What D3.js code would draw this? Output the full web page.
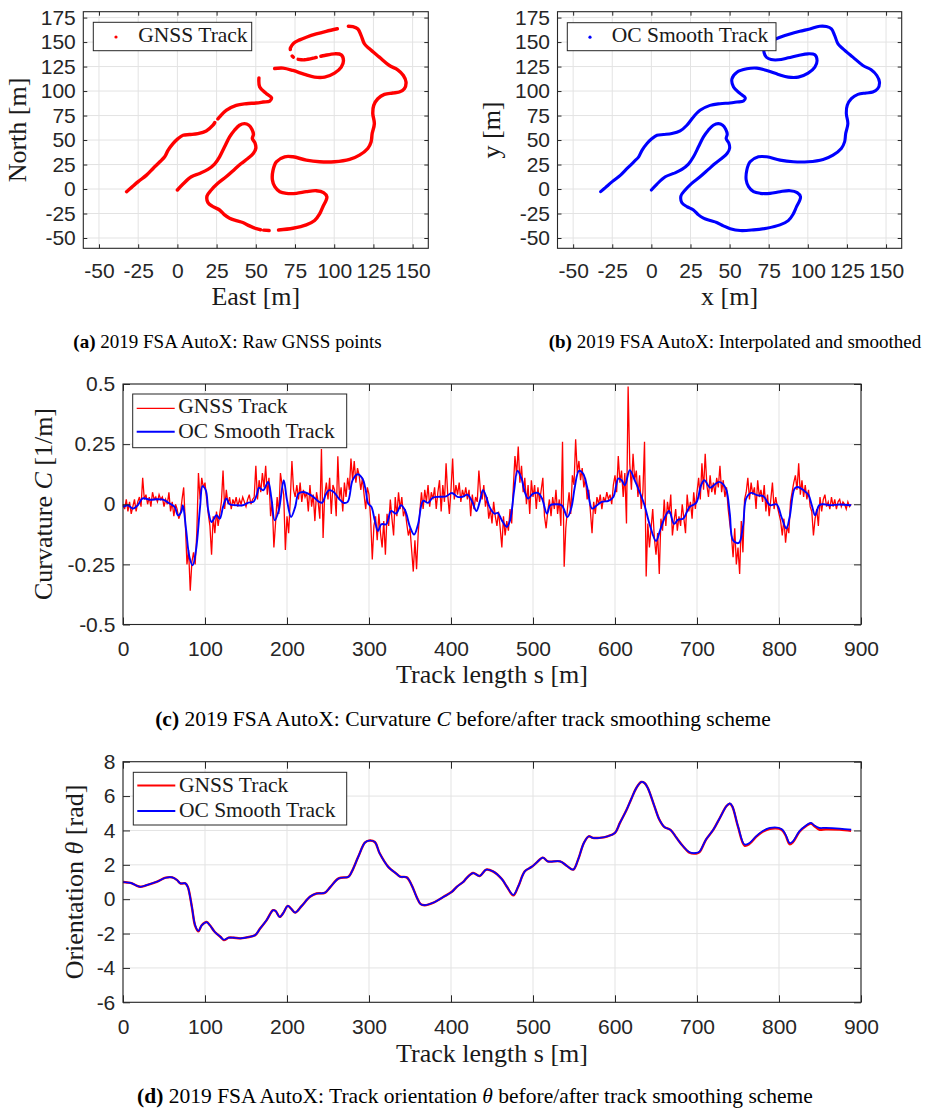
<!DOCTYPE html>
<html><head><meta charset="utf-8">
<script src="https://cdn.jsdelivr.net/npm/d3@7"></script>
<style>
body{margin:0;background:#fff;}
svg{display:block;}
</style></head><body>
<svg id="chart" width="926" height="1111"></svg>
<script>
// ---------------- DATA ----------------
// Track coordinates [m] (ordered from s = 0 at (0,0))
const smoothTrackX = [0.0,3.6,8.9,14.2,19.5,23.7,26.9,30.1,33.3,36.4,39.6,42.8,45.6,47.5,48.5,47.8,49.5,50.0,48.5,44.9,40.7,36.4,31.1,25.8,21.6,18.9,19.5,22.7,26.9,30.1,33.3,37.5,41.7,46.0,50.4,56.8,65.3,73.7,82.2,87.5,90.7,92.8,94.9,95.3,93.2,88.6,82.2,75.9,69.5,65.3,62.1,60.6,61.0,63.1,68.4,73.7,82.2,90.7,100.2,109.8,116.1,121.4,123.5,124.2,125.6,124.6,125.2,127.8,132.0,137.3,141.5,144.7,145.8,144.1,140.5,135.2,128.8,122.5,119.3,117.2,115.1,111.9,107.6,101.3,94.9,88.6,82.2,78.0,74.3,72.1,72.0,73.5,76.5,81.1,87.5,93.9,100.2,104.5,105.9,104.5,100.2,93.9,87.5,81.1,73.7,67.4,61.0,54.7,51.5,52.5,56.8,60.0,58.9,54.7,50.2,43.9,37.5,31.1,26.9,22.7,18.4,13.1,7.8,3.6,0.4,-2.8,-5.9,-8.1,-11.2,-15.5,-19.7,-25.0,-29.2,-32.4];
const smoothTrackY = [-1.0,5.1,12.5,15.9,20.0,25.4,32.9,43.1,53.2,60.0,65.1,66.8,65.1,61.0,56.0,51.5,47.0,41.5,36.5,31.2,26.1,20.0,12.5,5.8,-1.0,-7.1,-13.9,-18.0,-21.4,-26.4,-29.8,-32.2,-34.2,-37.6,-40.5,-42.4,-41.7,-40.0,-36.6,-32.2,-25.4,-18.0,-11.2,-7.8,-3.7,-1.7,-2.7,-4.4,-4.4,-2.7,2.4,9.2,19.3,27.8,32.9,32.9,29.5,27.8,27.8,30.2,34.6,41.4,48.1,56.6,66.8,77.0,85.4,92.2,96.6,98.0,99.0,102.4,109.2,115.9,121.7,126.1,134.6,143.1,148.1,156.6,163.4,165.8,166.1,163.4,161.0,158.3,154.9,152.2,149.1,144.0,139.5,134.5,132.2,131.9,133.9,136.3,138.0,137.0,131.2,124.4,118.3,114.2,114.2,117.0,121.0,123.4,122.7,119.3,112.5,104.1,97.3,93.2,89.8,88.8,87.8,87.1,85.4,80.3,73.6,65.1,59.3,56.6,55.6,54.9,51.5,46.4,39.7,32.9,27.8,21.0,14.2,7.5,1.7,-2.7];
// Raw GNSS points (null = no fix / gap)
const gnssTrackX = [0.0,3.6,8.9,14.2,19.5,23.7,26.9,30.1,33.3,36.4,39.6,42.8,45.6,47.5,48.5,47.8,49.5,50.0,48.5,44.9,40.7,36.4,31.1,25.8,21.6,18.9,19.5,22.7,26.9,30.1,33.3,37.5,41.7,46.0,50.4,53.0,null,55.0,58.5,null,64.5,73.7,82.2,87.5,90.7,92.8,94.9,95.3,93.2,88.6,82.2,75.9,69.5,65.3,62.1,60.6,61.0,63.1,68.4,73.7,82.2,90.7,100.2,109.8,116.1,121.4,123.5,124.2,125.6,124.6,125.2,127.8,132.0,137.3,141.5,144.7,145.8,144.1,140.5,135.2,128.8,122.5,119.3,117.2,115.1,111.9,109.0,null,102.0,94.9,88.6,82.2,78.0,74.3,72.1,72.0,null,73.2,73.9,null,77.0,81.1,87.5,88.5,null,91.5,93.9,100.2,104.5,105.9,104.5,100.2,93.9,87.5,81.1,73.7,67.4,62.0,null,52.0,52.5,56.8,60.0,58.9,54.7,50.2,43.9,37.5,31.1,26.9,25.8,null,23.8,22.7,18.4,13.1,7.8,3.6,0.4,-2.8,-5.9,-8.1,-11.2,-15.5,-19.7,-25.0,-29.2,-32.4];
const gnssTrackY = [-1.0,5.1,12.5,15.9,20.0,25.4,32.9,43.1,53.2,60.0,65.1,66.8,65.1,61.0,56.0,51.5,47.0,41.5,36.5,31.2,26.1,20.0,12.5,5.8,-1.0,-7.1,-13.9,-18.0,-21.4,-26.4,-29.8,-32.2,-34.2,-37.6,-40.5,-41.6,null,-42.0,-42.4,null,-41.8,-40.0,-36.6,-32.2,-25.4,-18.0,-11.2,-7.8,-3.7,-1.7,-2.7,-4.4,-4.4,-2.7,2.4,9.2,19.3,27.8,32.9,32.9,29.5,27.8,27.8,30.2,34.6,41.4,48.1,56.6,66.8,77.0,85.4,92.2,96.6,98.0,99.0,102.4,109.2,115.9,121.7,126.1,134.6,143.1,148.1,156.6,163.4,165.8,166.2,null,163.6,161.0,158.3,154.9,152.2,149.1,144.0,142.3,null,135.8,134.6,null,132.4,131.9,133.9,134.3,null,135.5,136.3,138.0,137.0,131.2,124.4,118.3,114.2,114.2,117.0,121.0,123.4,123.0,null,113.5,104.1,97.3,93.2,89.8,88.8,87.8,87.1,85.4,80.3,73.6,71.5,null,67.8,65.1,59.3,56.6,55.6,54.9,51.5,46.4,39.7,32.9,27.8,21.0,14.2,7.5,1.7,-2.7];

// Curvature of raw GNSS track, sampled every 2 m from s = 0
const gnssCurvStep = 2;
const gnssCurvature = [
 0.00,-0.02,0.02,-0.03,0.01,-0.04,-0.01,0.02,-0.03,0.01,
 0.03,-0.01,0.11,0.02,0.04,0.00,0.03,-0.01,0.05,0.02,
 0.03,0.01,0.04,0.02,0.03,-0.01,0.02,0.00,0.05,-0.03,
 0.01,-0.05,0.00,-0.02,-0.06,-0.04,0.02,0.07,-0.08,-0.25,
 -0.19,-0.36,-0.24,-0.20,-0.25,-0.12,0.13,0.02,0.11,0.07,
 0.09,0.02,-0.04,-0.09,-0.21,-0.05,-0.12,-0.03,-0.09,-0.04,
 0.01,0.14,-0.02,0.06,0.00,0.03,-0.02,0.02,0.00,0.03,
 -0.01,0.02,0.00,0.03,0.01,-0.01,0.02,0.04,0.00,0.02,
 0.03,0.16,0.02,0.10,0.05,0.13,0.07,0.16,0.04,0.11,
 -0.05,0.01,-0.18,-0.08,0.03,-0.04,0.13,0.08,0.04,-0.19,
 -0.05,-0.12,0.02,0.18,0.06,0.03,0.08,0.02,0.09,0.01,
 0.06,0.03,0.05,-0.03,0.08,-0.01,0.04,-0.07,0.05,0.01,
 -0.06,0.23,-0.14,0.04,0.09,0.02,0.11,-0.04,0.08,0.06,
 -0.05,0.20,0.02,0.07,-0.03,0.09,0.03,0.11,0.06,0.19,
 0.10,0.18,0.09,0.15,0.12,0.06,0.11,0.04,-0.02,0.07,
 0.04,-0.06,-0.23,-0.09,-0.05,-0.15,-0.04,-0.12,-0.18,-0.07,
 -0.21,-0.04,-0.09,0.02,-0.06,-0.13,0.03,-0.05,0.05,-0.02,
 0.03,-0.05,-0.02,-0.08,-0.13,-0.10,-0.19,-0.28,-0.15,-0.27,
 -0.12,-0.03,0.05,-0.02,0.06,0.01,0.08,-0.01,0.05,0.02,
 0.07,-0.02,0.05,0.10,-0.03,0.08,0.01,0.17,0.04,-0.04,
 0.06,0.19,0.02,0.08,0.04,0.09,0.01,0.06,0.03,0.07,
 0.02,0.06,-0.05,0.04,-0.02,0.03,0.01,0.14,0.05,0.02,
 0.08,-0.01,0.03,-0.06,-0.02,-0.08,0.01,-0.05,-0.09,-0.03,
 -0.10,-0.18,-0.05,-0.13,-0.07,-0.11,-0.02,-0.08,0.07,0.20,
 0.12,0.24,0.09,0.16,0.05,0.11,0.00,0.08,-0.04,0.10,
 0.03,0.08,-0.02,0.07,0.01,0.06,0.11,-0.05,-0.10,-0.03,
 0.02,-0.05,0.03,-0.02,0.06,-0.04,0.02,-0.09,0.26,-0.26,
 -0.10,-0.02,0.05,-0.04,0.12,0.08,0.27,0.13,0.18,0.10,
 0.15,0.07,0.11,0.02,0.06,-0.03,-0.12,0.01,-0.04,0.03,
 0.00,0.04,-0.02,0.03,0.01,0.05,0.02,0.04,0.00,0.08,
 0.12,0.05,0.20,0.09,0.14,0.03,0.13,-0.08,0.49,0.17,
 0.06,0.21,0.10,0.14,0.03,0.12,-0.02,0.05,0.26,-0.30,
 -0.08,-0.18,-0.10,-0.02,-0.14,-0.21,-0.12,-0.29,-0.06,-0.11,
 0.02,-0.09,0.01,-0.04,0.04,-0.13,-0.07,-0.02,-0.11,-0.05,
 -0.09,0.00,-0.06,-0.12,0.04,-0.03,0.01,-0.06,0.05,-0.02,
 0.05,0.11,0.02,0.17,0.06,0.21,0.08,0.03,0.12,0.05,
 0.09,0.04,0.11,0.07,0.16,0.05,0.10,0.03,0.07,-0.02,
 -0.08,-0.13,-0.22,-0.10,-0.25,-0.18,-0.29,-0.07,-0.20,0.02,
 0.05,0.11,0.02,0.09,0.04,0.07,-0.02,0.10,0.03,0.06,
 0.01,0.08,-0.03,0.04,-0.05,0.02,0.09,-0.02,0.03,-0.01,
 -0.04,-0.07,-0.13,-0.06,-0.16,-0.09,-0.12,0.01,0.05,0.09,
 0.12,0.06,0.17,0.04,0.10,0.03,0.08,0.02,0.06,-0.01,
 -0.03,-0.13,-0.06,-0.02,-0.09,0.03,-0.03,0.02,0.04,-0.01,
 0.01,-0.02,0.03,-0.01,0.02,-0.02,0.01,0.02,-0.01,0.01,
 0.00,-0.02,0.01,-0.01,0.00];

// Curvature of OC smooth track [s, kappa]
const smoothCurvature = [[0,-0.011],[6,-0.004],[12,-0.018],[18,-0.004],[24,0.024],[33,0.019],[41,0.021],[49,0.019],[57,0.003],[63,-0.011],[67,-0.046],[71,-0.032],[73,-0.004],[77,-0.108],[81,-0.219],[85,-0.254],[89,-0.192],[94,-0.011],[97,0.075],[101,0.058],[104,-0.025],[108,-0.074],[114,-0.046],[118,-0.060],[122,-0.011],[126,0.024],[130,0.0],[138,-0.004],[146,-0.004],[153,0.007],[159,0.010],[163,0.038],[166,0.069],[171,0.058],[177,0.093],[181,0.024],[185,-0.067],[190,-0.025],[196,0.100],[200,0.017],[205,-0.053],[210,-0.011],[214,0.044],[220,0.051],[227,0.042],[233,0.028],[239,0.010],[243,0.007],[247,0.038],[251,0.058],[257,0.051],[263,0.024],[269,0.006],[274,0.010],[280,0.100],[286,0.125],[292,0.107],[296,0.058],[299,0.003],[303,-0.011],[307,-0.067],[311,-0.111],[315,-0.083],[321,-0.083],[327,-0.028],[333,-0.039],[339,-0.004],[344,-0.025],[350,-0.094],[355,-0.126],[360,-0.081],[366,0.014],[372,0.006],[378,0.028],[386,0.031],[394,0.033],[401,0.047],[408,0.031],[414,0.031],[420,0.040],[425,0.017],[431,-0.028],[435,0.010],[439,0.058],[443,0.031],[447,-0.011],[453,-0.039],[457,-0.036],[462,-0.067],[468,-0.094],[472,-0.067],[477,0.058],[481,0.139],[486,0.107],[490,0.051],[494,0.024],[500,0.044],[506,0.047],[511,0.024],[517,-0.039],[521,-0.004],[527,0.0],[535,-0.004],[542,-0.053],[547,-0.011],[551,0.072],[556,0.139],[561,0.128],[566,0.072],[572,-0.018],[578,-0.004],[584,0.010],[592,0.014],[598,0.030],[604,0.107],[608,0.100],[612,0.079],[618,0.142],[624,0.100],[630,0.051],[636,-0.004],[642,-0.081],[650,-0.153],[655,-0.108],[661,-0.053],[666,-0.028],[672,-0.081],[677,-0.064],[683,-0.060],[691,-0.011],[699,0.006],[705,0.079],[709,0.100],[716,0.069],[722,0.083],[727,0.093],[732,0.083],[736,0.058],[740,-0.039],[744,-0.150],[751,-0.161],[756,-0.094],[760,0.024],[766,0.047],[773,0.038],[781,0.033],[789,-0.004],[797,0.0],[803,-0.053],[809,-0.101],[813,-0.053],[819,0.065],[823,0.072],[830,0.058],[836,0.038],[840,-0.004],[844,-0.046],[849,-0.004],[854,0.0],[862,-0.004],[874,-0.001],[888,-0.004]];

// Orientation [s, theta]
const smoothOrientation = [[0,1.0],[5,0.97],[11,0.92],[16,0.80],[21,0.72],[29,0.82],[41,1.01],[52,1.25],[60,1.27],[66,1.11],[70,0.92],[76,0.92],[79,0.72],[84,-0.45],[88,-1.52],[92,-1.85],[96,-1.52],[102,-1.33],[106,-1.52],[112,-1.91],[119,-2.20],[123,-2.36],[129,-2.24],[135,-2.24],[143,-2.28],[151,-2.22],[161,-2.10],[167,-1.72],[175,-1.23],[183,-0.64],[186,-0.68],[191,-1.03],[195,-0.84],[201,-0.39],[205,-0.55],[210,-0.78],[218,-0.39],[228,0.14],[236,0.33],[246,0.37],[253,0.72],[263,1.21],[275,1.31],[279,1.60],[287,2.48],[295,3.29],[300,3.41],[307,3.33],[313,2.67],[324,1.85],[332,1.54],[338,1.31],[346,1.27],[352,0.82],[358,0.14],[363,-0.29],[368,-0.35],[378,-0.21],[391,0.14],[401,0.43],[407,0.72],[415,1.01],[419,1.23],[427,1.52],[435,1.35],[443,1.72],[451,1.62],[462,1.17],[468,0.74],[476,0.25],[482,0.74],[490,1.62],[498,1.87],[504,2.11],[512,2.42],[518,2.20],[533,2.20],[541,1.95],[549,1.72],[555,2.30],[562,3.27],[568,3.66],[573,3.57],[581,3.57],[591,3.66],[600,3.86],[606,4.44],[614,5.19],[620,5.85],[626,6.47],[632,6.82],[636,6.76],[640,6.47],[648,5.42],[654,4.64],[660,4.21],[668,4.02],[675,3.57],[683,3.08],[691,2.73],[699,2.69],[703,2.77],[711,3.47],[720,4.05],[728,4.74],[736,5.42],[740,5.58],[743,5.42],[750,4.25],[758,3.18],[764,3.27],[772,3.66],[780,3.96],[789,4.15],[803,4.09],[808,3.76],[813,3.27],[817,3.37],[825,3.96],[833,4.29],[839,4.44],[843,4.29],[849,4.15],[857,4.15],[874,4.11],[888,4.05]];
const gnssOrientation = [[0,1.0],[5,0.97],[11,0.92],[16,0.80],[21,0.72],[29,0.82],[41,1.01],[52,1.25],[60,1.27],[66,1.11],[70,0.92],[76,0.92],[79,0.72],[84,-0.45],[88,-1.55],[92,-1.87],[96,-1.52],[102,-1.33],[106,-1.52],[112,-1.91],[119,-2.20],[123,-2.38],[129,-2.24],[135,-2.24],[143,-2.28],[151,-2.22],[161,-2.10],[167,-1.72],[175,-1.23],[183,-0.64],[186,-0.68],[191,-1.03],[195,-0.84],[201,-0.39],[205,-0.55],[210,-0.78],[218,-0.39],[228,0.14],[236,0.33],[246,0.37],[253,0.72],[263,1.21],[275,1.31],[279,1.60],[287,2.48],[295,3.29],[300,3.41],[307,3.33],[313,2.67],[324,1.85],[332,1.54],[338,1.31],[346,1.27],[352,0.82],[358,0.14],[363,-0.29],[368,-0.35],[378,-0.21],[391,0.14],[401,0.43],[407,0.72],[415,1.01],[419,1.23],[427,1.52],[435,1.35],[443,1.72],[451,1.62],[462,1.17],[468,0.74],[476,0.22],[482,0.74],[490,1.62],[498,1.87],[504,2.11],[512,2.42],[518,2.20],[533,2.20],[541,1.95],[549,1.72],[555,2.30],[562,3.27],[568,3.66],[573,3.57],[581,3.57],[591,3.66],[600,3.86],[606,4.44],[614,5.19],[620,5.85],[626,6.47],[632,6.82],[636,6.76],[640,6.47],[648,5.42],[654,4.64],[660,4.21],[668,4.02],[675,3.57],[683,3.08],[691,2.70],[699,2.66],[703,2.74],[711,3.47],[720,4.05],[728,4.74],[736,5.42],[740,5.55],[743,5.40],[750,4.22],[758,3.12],[764,3.22],[772,3.62],[780,3.92],[789,4.10],[803,4.05],[808,3.72],[813,3.20],[817,3.32],[825,3.92],[833,4.26],[839,4.40],[843,4.26],[849,4.05],[857,4.07],[874,4.05],[888,3.98]];

// Axis ticks
const trackXTicks = [-50,-25,0,25,50,75,100,125,150];
const trackYTicks = [-50,-25,0,25,50,75,100,125,150,175];
const sTicks = [0,100,200,300,400,500,600,700,800,900];
const curvTicks = [-0.5,-0.25,0,0.25,0.5];
const orientTicks = [-6,-4,-2,0,2,4,6,8];

// ---------------- DRAWING ----------------
const svg = d3.select("#chart");
const SANS = '"Liberation Sans", Arial, Helvetica, sans-serif';
const SERIF = '"Liberation Serif", "Times New Roman", serif';
const AX = '#262626', GRID = '#e3e3e3', TXT = '#1a1a1a';
const RED = '#ff0000', BLUE = '#0000ff';

function makePanel(o){
  const x = d3.scaleLinear().domain(o.xDom).range([o.x0, o.x1]);
  const y = d3.scaleLinear().domain(o.yDom).range([o.y1, o.y0]);
  const g = svg.append("g");
  const grid = g.append("g");
  grid.selectAll(null).data(o.xTicks).join("line")
    .attr("x1", d => x(d)).attr("x2", d => x(d)).attr("y1", o.y0).attr("y2", o.y1)
    .attr("stroke", GRID).attr("stroke-width", 1);
  grid.selectAll(null).data(o.yTicks).join("line")
    .attr("y1", d => y(d)).attr("y2", d => y(d)).attr("x1", o.x0).attr("x2", o.x1)
    .attr("stroke", GRID).attr("stroke-width", 1);
  const data = g.append("g");
  return Object.assign({}, o, {x, y, g, data});
}

function styleAxis(sel, fs){
  sel.attr("font-family", SANS).attr("font-size", fs);
  sel.select(".domain").remove();
  sel.selectAll(".tick line").attr("stroke", AX).attr("stroke-width", 1);
  sel.selectAll(".tick text").attr("fill", AX);
}

function finishPanel(p){
  const g = p.g.append("g");
  const fs = 21;
  g.append("g").attr("transform", `translate(0,${p.y1})`)
    .call(d3.axisBottom(p.x).tickValues(p.xTicks).tickSizeInner(-p.tick).tickSizeOuter(0).tickPadding(p.xPad).tickFormat(p.xFmt))
    .call(s => styleAxis(s, fs));
  g.append("g").attr("transform", `translate(0,${p.y0})`)
    .call(d3.axisTop(p.x).tickValues(p.xTicks).tickSizeInner(-p.tick).tickSizeOuter(0).tickFormat(""))
    .call(s => styleAxis(s, fs));
  g.append("g").attr("transform", `translate(${p.x0},0)`)
    .call(d3.axisLeft(p.y).tickValues(p.yTicks).tickSizeInner(-p.tick).tickSizeOuter(0).tickPadding(p.yPad).tickFormat(p.yFmt))
    .call(s => styleAxis(s, fs));
  g.append("g").attr("transform", `translate(${p.x1},0)`)
    .call(d3.axisRight(p.y).tickValues(p.yTicks).tickSizeInner(-p.tick).tickSizeOuter(0).tickFormat(""))
    .call(s => styleAxis(s, fs));
  g.append("rect").attr("x", p.x0).attr("y", p.y0)
    .attr("width", p.x1 - p.x0).attr("height", p.y1 - p.y0)
    .attr("fill", "none").attr("stroke", AX).attr("stroke-width", 1.1);
}

function label(x, y, rot, size){
  return svg.append("text")
    .attr("font-family", SERIF).attr("font-size", size || 26)
    .attr("fill", TXT).attr("text-anchor", "middle")
    .attr("transform", rot ? `translate(${x},${y}) rotate(-90)` : `translate(${x},${y})`);
}

// ---- Panels (a) and (b): tracks ----
const trackCommon = {y0: 11.7, y1: 248.3, xDom: [-60, 160], yDom: [-60.5, 181],
  xTicks: trackXTicks, yTicks: trackYTicks, tick: 4, xPad: 15, yPad: 7.5,
  xFmt: d => String(d), yFmt: d => String(d)};
const pA = makePanel(Object.assign({x0: 83.3, x1: 428.3}, trackCommon));
const pB = makePanel(Object.assign({x0: 557.5, x1: 901.7}, trackCommon));

const gnssPts = gnssTrackX.map((v, i) => ({x: v, y: gnssTrackY[i]}));
const smoothPts = smoothTrackX.map((v, i) => ({x: v, y: smoothTrackY[i]}));

function trackLine(p){
  return d3.line().defined(d => d.x != null && d.y != null)
    .x(d => p.x(d.x)).y(d => p.y(d.y)).curve(d3.curveCatmullRom.alpha(0.5));
}
pA.data.append("path").attr("d", trackLine(pA)(gnssPts))
  .attr("fill", "none").attr("stroke", RED).attr("stroke-width", 3.4)
  .attr("stroke-linecap", "round").attr("stroke-linejoin", "round");
pB.data.append("path").attr("d", trackLine(pB)(smoothPts))
  .attr("fill", "none").attr("stroke", BLUE).attr("stroke-width", 3.1)
  .attr("stroke-linecap", "round").attr("stroke-linejoin", "round");
finishPanel(pA); finishPanel(pB);

// legends (a),(b)
function pointLegend(x0, y0, x1, y1, color, dotX, txtX, text){
  svg.append("rect").attr("x", x0).attr("y", y0).attr("width", x1 - x0).attr("height", y1 - y0)
    .attr("fill", "#fff").attr("stroke", AX).attr("stroke-width", 1);
  svg.append("circle").attr("cx", dotX).attr("cy", (y0 + y1) / 2 + 0.5).attr("r", 1.6).attr("fill", color);
  svg.append("text").attr("x", txtX).attr("y", 41.7).attr("font-family", SERIF)
    .attr("font-size", 21.5).attr("fill", TXT).text(text);
}
pointLegend(93.3, 22.3, 251.7, 50.7, RED, 116, 138.3, "GNSS Track");
pointLegend(567.3, 22.7, 776, 50.7, BLUE, 590, 611.7, "OC Smooth Track");

label(255.8, 305).text("East [m]");
label(26, 130, true).text("North [m]");
label(729.6, 305).text("x [m]");
label(500, 130, true).text("y [m]");

// ---- Panel (c): curvature ----
const pC = makePanel({x0: 123, x1: 861, y0: 384, y1: 624.5, xDom: [0, 900], yDom: [-0.5, 0.5],
  xTicks: sTicks, yTicks: curvTicks, tick: 7, xPad: 16.5, yPad: 7.7,
  xFmt: d => String(d), yFmt: d => String(d)});
const gnssCurvPts = gnssCurvature.map((k, i) => [i * gnssCurvStep, k]);
const lineC = d3.line().x(d => pC.x(d[0])).y(d => pC.y(d[1]));
pC.data.append("path").attr("d", lineC(gnssCurvPts))
  .attr("fill", "none").attr("stroke", RED).attr("stroke-width", 1.3).attr("stroke-linejoin", "miter");
pC.data.append("path").attr("d", lineC.curve(d3.curveCatmullRom.alpha(0.5))(smoothCurvature))
  .attr("fill", "none").attr("stroke", BLUE).attr("stroke-width", 1.9);
finishPanel(pC);

// ---- Panel (d): orientation ----
const pD = makePanel({x0: 123, x1: 861, y0: 761.7, y1: 1002.3, xDom: [0, 900], yDom: [-6, 8],
  xTicks: sTicks, yTicks: orientTicks, tick: 7, xPad: 16.5, yPad: 7.7,
  xFmt: d => String(d), yFmt: d => String(d)});
const lineD = d3.line().x(d => pD.x(d[0])).y(d => pD.y(d[1])).curve(d3.curveCatmullRom.alpha(0.5));
pD.data.append("path").attr("d", lineD(gnssOrientation))
  .attr("fill", "none").attr("stroke", RED).attr("stroke-width", 2.4);
pD.data.append("path").attr("d", lineD(smoothOrientation))
  .attr("fill", "none").attr("stroke", BLUE).attr("stroke-width", 1.7);
finishPanel(pD);

// line legends (c),(d)
function lineLegend(x0, y0, x1, y1, rows){
  svg.append("rect").attr("x", x0).attr("y", y0).attr("width", x1 - x0).attr("height", y1 - y0)
    .attr("fill", "#fff").attr("stroke", AX).attr("stroke-width", 1);
  rows.forEach(r => {
    svg.append("line").attr("x1", x0 + 4).attr("x2", x0 + 42).attr("y1", r.ly).attr("y2", r.ly)
      .attr("stroke", r.color).attr("stroke-width", r.w);
    svg.append("text").attr("x", x0 + 45.6).attr("y", r.ty).attr("font-family", SERIF)
      .attr("font-size", 21.5).attr("fill", TXT).text(r.text);
  });
}
lineLegend(132.7, 394, 346.7, 447.7, [
  {color: RED, w: 1.3, ly: 408.3, ty: 413.3, text: "GNSS Track"},
  {color: BLUE, w: 1.9, ly: 431.7, ty: 438.3, text: "OC Smooth Track"}]);
lineLegend(133.3, 772.3, 346.7, 825, [
  {color: RED, w: 2.2, ly: 785.5, ty: 791.7, text: "GNSS Track"},
  {color: BLUE, w: 1.9, ly: 811, ty: 816.7, text: "OC Smooth Track"}]);

label(492, 683).text("Track length s [m]");
const cl = label(51.5, 504, true);
cl.append("tspan").text("Curvature ");
cl.append("tspan").attr("font-style", "italic").text("C");
cl.append("tspan").text(" [1/m]");
label(492, 1061.5).text("Track length s [m]");
const ol = label(83, 882, true);
ol.append("tspan").text("Orientation ");
ol.append("tspan").attr("font-style", "italic").text("θ");
ol.append("tspan").text(" [rad]");

// ---- Captions ----
function caption(x, y, size, letter, parts){
  const t = svg.append("text").attr("x", x).attr("y", y).attr("font-family", SERIF)
    .attr("font-size", size).attr("fill", "#000").attr("text-anchor", "middle");
  t.append("tspan").attr("font-weight", "bold").text("(" + letter + ")");
  parts.forEach(p => t.append("tspan").attr("font-style", p.i ? "italic" : null).text(p.t));
}
caption(227.5, 348, 19, "a", [{t: " 2019 FSA AutoX: Raw GNSS points"}]);
caption(735, 348, 19, "b", [{t: " 2019 FSA AutoX: Interpolated and smoothed"}]);
caption(463, 725.5, 21.5, "c", [{t: " 2019 FSA AutoX: Curvature "}, {t: "C", i: true}, {t: " before/after track smoothing scheme"}]);
caption(475, 1102.5, 21.5, "d", [{t: " 2019 FSA AutoX: Track orientation "}, {t: "θ", i: true}, {t: " before/after track smoothing scheme"}]);
</script>
</body></html>
